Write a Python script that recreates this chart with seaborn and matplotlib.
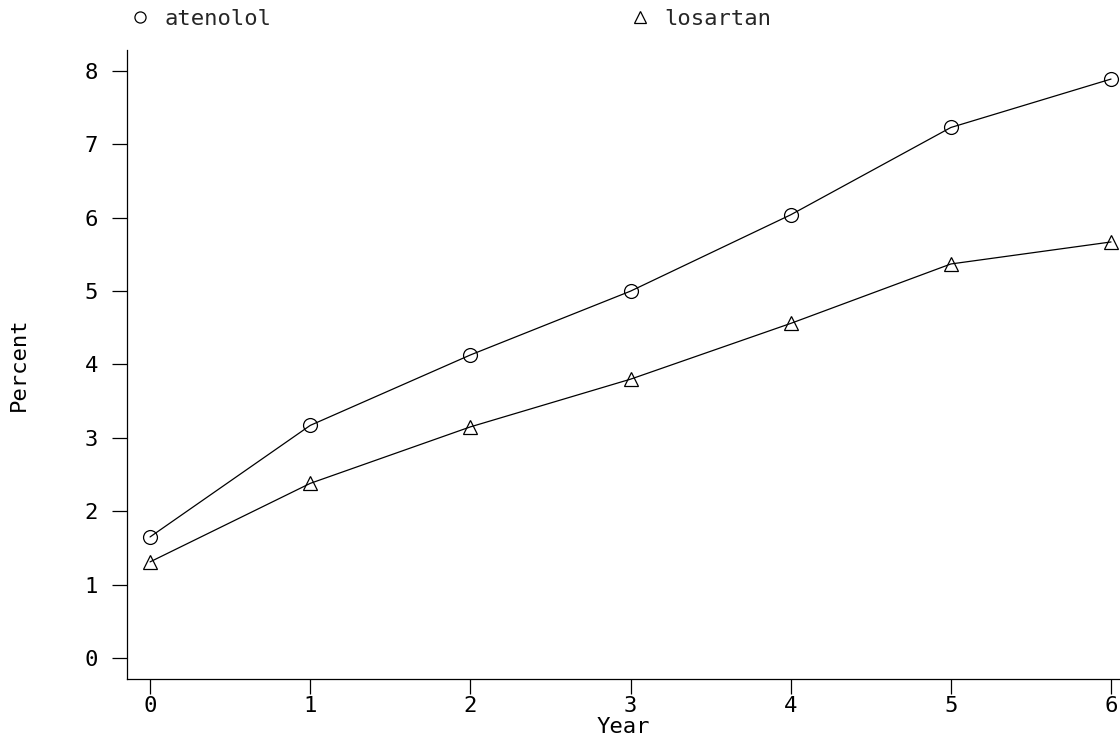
import matplotlib
matplotlib.use("Agg")
import matplotlib.pyplot as plt
import seaborn as sns
import pandas as pd
from matplotlib.lines import Line2D

years = [0, 1, 2, 3, 4, 5, 6]
atenolol = [1.65, 3.17, 4.13, 5.00, 6.04, 7.23, 7.89]
losartan = [1.31, 2.38, 3.15, 3.80, 4.56, 5.37, 5.67]
series_names = ["atenolol", "losartan"]
yticks = [0, 1, 2, 3, 4, 5, 6, 7, 8]

df = pd.DataFrame({
    "Year": years * 2,
    "Percent": atenolol + losartan,
    "drug": [series_names[0]] * len(years) + [series_names[1]] * len(years),
})

sns.set_theme(style="white")
plt.rcParams["font.family"] = ["DejaVu Sans Mono", "DejaVu Sans"]

fig = plt.figure(figsize=(11.2, 7.43), dpi=100)
ax = fig.add_axes([127 / 1120, 1 - 679 / 743, 1 - 127 / 1120, (679 - 50) / 743])

markers = {"atenolol": "o", "losartan": "^"}
for name in series_names:
    sub = df[df["drug"] == name]
    sns.lineplot(data=sub, x="Year", y="Percent", ax=ax, color="black",
                 marker=markers[name], markersize=10, markerfacecolor="none",
                 markeredgecolor="black", markeredgewidth=0.9, linewidth=0.9,
                 legend=False)

ax.set_xlim(-0.144, 6.056)
ax.set_ylim(-0.286, 8.286)
ax.set_xticks(years)
ax.set_yticks(yticks)
ax.set_xticklabels([str(v) for v in years])
ax.set_yticklabels([str(v) for v in yticks])

for s in ["top", "right"]:
    ax.spines[s].set_visible(False)
for s in ["left", "bottom"]:
    ax.spines[s].set_color("black")
    ax.spines[s].set_linewidth(0.9)

ax.tick_params(axis="both", direction="out", length=11, width=0.9, colors="black",
               labelsize=16, left=True, bottom=True)
ax.tick_params(axis="x", pad=1)
ax.tick_params(axis="y", pad=10)
ax.set_xlabel("Year", fontsize=16, color="black", labelpad=1)
ax.set_ylabel("Percent", fontsize=16, color="black", labelpad=40)

handles = [Line2D([], [], linestyle="none", marker=markers[n], markersize=8,
                  markerfacecolor="none", markeredgecolor="black", markeredgewidth=0.9)
           for n in series_names]
fig.legend(handles, series_names, ncol=2, loc="upper left",
           bbox_to_anchor=(120 / 1120, 1.006), frameon=False, fontsize=16,
           handlelength=0.6, handletextpad=0.8, columnspacing=16.3,
           borderaxespad=0.2)

fig.savefig("out.png", dpi=100, facecolor="white")
